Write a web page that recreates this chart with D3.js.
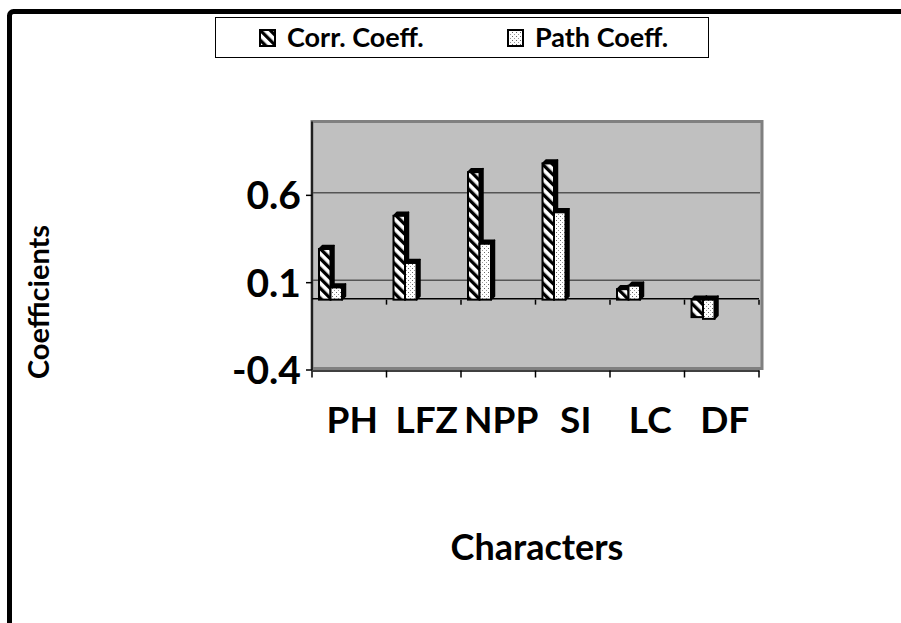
<!DOCTYPE html>
<html><head><meta charset="utf-8">
<script src="https://cdn.jsdelivr.net/npm/d3@7"></script>
<style>body{margin:0;background:#fff}svg{display:block}</style>
</head><body>
<script>
const categories = ["PH","LFZ","NPP","SI","LC","DF"];
const corrCoeff = [0.29, 0.48, 0.73, 0.78, 0.06, -0.10];
const pathCoeff = [0.07, 0.21, 0.32, 0.50, 0.08, -0.11];
const yTicks = [-0.4, 0.1, 0.6];
const seriesNames = ["Corr. Coeff.", "Path Coeff."];

const W = 901, H = 623;
const FONT = "Lato, 'Open Sans', sans-serif";
const svg = d3.select("body").append("svg").attr("width", W).attr("height", H);
const defs = svg.append("defs");

// hatch pattern "\"
const hatch = defs.append("pattern").attr("id","hatch").attr("patternUnits","userSpaceOnUse")
  .attr("width",7).attr("height",7).attr("patternTransform","rotate(-45)");
hatch.append("rect").attr("width",7).attr("height",7).attr("fill","#fff");
hatch.append("rect").attr("width",3.3).attr("height",7).attr("fill","#000");
// dotted pattern
const dots = defs.append("pattern").attr("id","dots").attr("patternUnits","userSpaceOnUse")
  .attr("width",4).attr("height",4);
dots.append("rect").attr("width",4).attr("height",4).attr("fill","#fff");
dots.append("rect").attr("x",0).attr("y",0).attr("width",1).attr("height",1).attr("fill","#666");
dots.append("rect").attr("x",2).attr("y",2).attr("width",1).attr("height",1).attr("fill","#999");
const fills = ["url(#hatch)","url(#dots)"];

// outer frame
svg.append("rect").attr("x",9.5).attr("y",11.5).attr("width",1200).attr("height",1200)
  .attr("rx",4).attr("fill","none").attr("stroke","#000").attr("stroke-width",5);

const x = d3.scaleBand().domain(categories).range([312, 759]).padding(0);
const y = d3.scaleLinear().domain([-0.4, 1.02]).range([369.5, 121.5]);

// wall
svg.append("rect").attr("x",312).attr("y",y(1.02)).attr("width",450).attr("height",y(-0.4)-y(1.02)-1)
  .attr("fill","#c0c0c0").attr("stroke","#808080").attr("stroke-width",3);

// gridlines (back wall)
svg.selectAll("line.grid").data(yTicks.filter(d=>d>-0.4)).join("line")
  .attr("x1",313).attr("x2",760).attr("y1",d=>y(d)-2).attr("y2",d=>y(d)-2)
  .attr("stroke","#555").attr("stroke-width",1.5);

// zero line
svg.append("line").attr("x1",312).attr("x2",759).attr("y1",y(0)-1).attr("y2",y(0)-1)
  .attr("stroke","#000").attr("stroke-width",1.5);
// ticks at zero line
svg.selectAll("line.zt").data(categories.slice(1).map(c=>x(c)).concat([759])).join("line")
  .attr("x1",d=>d).attr("x2",d=>d).attr("y1",y(0)).attr("y2",y(0)+5)
  .attr("stroke","#000").attr("stroke-width",1.5);

// bottom axis
const xAxis = d3.axisBottom(x).tickSize(0).tickFormat("");
svg.append("g").attr("transform",`translate(0,${y(-0.4)+1})`).call(xAxis)
  .call(g=>g.select(".domain").attr("stroke","#000").attr("stroke-width",1.5));
svg.selectAll("line.bt").data(categories.map(c=>x(c)).concat([759])).join("line")
  .attr("x1",d=>d).attr("x2",d=>d).attr("y1",y(-0.4)+1).attr("y2",y(-0.4)+8)
  .attr("stroke","#000").attr("stroke-width",1.5);
svg.selectAll("text.cat").data(categories).join("text")
  .attr("x",d=>x(d)+x.bandwidth()/2+3).attr("y",433)
  .attr("text-anchor","middle").attr("font-family",FONT).attr("font-weight","bold")
  .attr("font-size",37).text(d=>d);

// y axis
const yAxis = d3.axisLeft(y).tickValues(yTicks).tickSize(6).tickFormat(d=>d3.format(".1f")(d).replace("−","-"));
const ga = svg.append("g").attr("transform","translate(312,0)").call(yAxis);
ga.select(".domain").attr("stroke","#000").attr("stroke-width",1.5).attr("d",`M0,${y(1.02)}V${y(-0.4)+1}`);
ga.selectAll(".tick line").attr("stroke","#000").attr("stroke-width",1.5);
ga.selectAll(".tick text").attr("x",-11).attr("dy","0.36em").attr("font-family",FONT)
  .attr("font-weight","bold").attr("font-size",39).attr("fill","#000");

// bars
const bw = 11.5, dep = 3.5;
const rows = [];
categories.forEach((c,i)=>{
  [corrCoeff[i], pathCoeff[i]].forEach((v,s)=>rows.push({c, v, s}));
});
const bars = svg.append("g").selectAll("g").data(rows).join("g");
bars.each(function(d){
  const g = d3.select(this);
  const x0 = x(d.c) + 7 + d.s*bw;
  const yt = Math.min(y(d.v), y(0)), yb = Math.max(y(d.v), y(0));
  g.append("path").attr("d",`M${x0+bw},${yt}L${x0+bw+dep},${yt-dep}L${x0+bw+dep},${yb-dep}L${x0+bw},${yb}Z`)
    .attr("fill","#000").attr("stroke","#000").attr("stroke-width",1.5).attr("stroke-linejoin","round");
  g.append("path").attr("d",`M${x0},${yt}L${x0+dep},${yt-dep}L${x0+bw+dep},${yt-dep}L${x0+bw},${yt}Z`)
    .attr("fill","#000").attr("stroke","#000").attr("stroke-width",1.5).attr("stroke-linejoin","round");
  g.append("rect").attr("x",x0).attr("y",yt).attr("width",bw).attr("height",yb-yt)
    .attr("fill",fills[d.s]).attr("stroke","#000").attr("stroke-width",2);
});

// legend
svg.append("rect").attr("x",215.5).attr("y",17.5).attr("width",493).attr("height",40)
  .attr("fill","#fff").attr("stroke","#000").attr("stroke-width",1);
const legX = [259, 507];
seriesNames.forEach((n,i)=>{
  svg.append("rect").attr("x",legX[i]+1).attr("y",30).attr("width",15).attr("height",16)
    .attr("fill",fills[i]).attr("stroke","#000").attr("stroke-width",2);
  svg.append("text").attr("x",legX[i]+28).attr("y",47).attr("font-family",FONT)
    .attr("font-weight","bold").attr("font-size",27).text(n);
});

// axis titles
svg.append("text").attr("transform","translate(49,302) rotate(-90)").attr("text-anchor","middle")
  .attr("font-family",FONT).attr("font-weight","bold").attr("font-size",29).text("Coefficients");
svg.append("text").attr("x",537).attr("y",560).attr("text-anchor","middle")
  .attr("font-family",FONT).attr("font-weight","bold").attr("font-size",36).text("Characters");
</script>
</body></html>
